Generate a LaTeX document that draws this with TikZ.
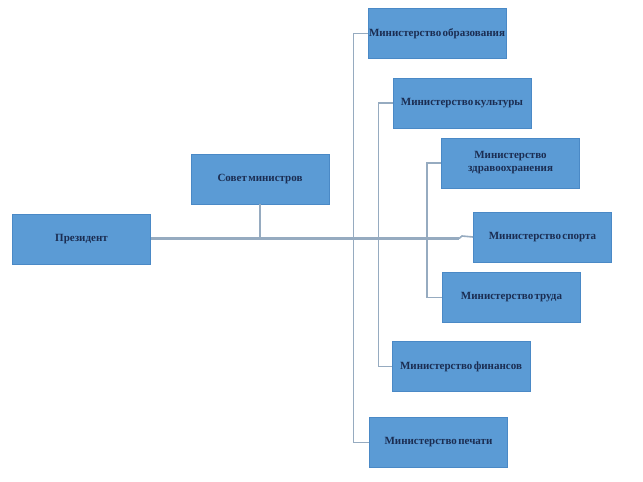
\documentclass[tikz,border=0pt]{standalone}
\usepackage{fontspec}
\setmainfont{Liberation Serif}
\newfontfamily\boxfam[WordSpace=0.5]{Liberation Serif}
\definecolor{boxfill}{HTML}{5B9BD5}
\definecolor{boxedge}{HTML}{4A89C6}
\definecolor{txt}{HTML}{1B2D52}
\definecolor{conn}{HTML}{96ABC0}
\begin{document}
\begin{tikzpicture}[x=1pt,y=-1pt,
  box/.style={draw=boxedge,fill=boxfill,line width=0.8pt,minimum width=138pt,minimum height=50pt,
    inner sep=0pt,align=center,text=txt,font=\boxfam\bfseries\fontsize{11}{13}\selectfont},
  link/.style={draw=conn,line width=1.6pt},
  mainlink/.style={draw=conn,line width=2.4pt}]
\useasboundingbox (0,0) rectangle (643,482);
\node[box] (pres) at (81.5,239) {Президент};
\node[box] (sov) at (260,179) {Совет министров};
\node[box] (edu) at (437,33.5) {Министерство образования};
\node[box] (cult) at (462,103) {Министерство культуры};
\node[box] (health) at (510.5,163) {Министерство\\здравоохранения};
\node[box] (sport) at (542.5,237) {Министерство спорта};
\node[box] (labor) at (511.5,297.5) {Министерство труда};
\node[box] (fin) at (461,366.5) {Министерство финансов};
\node[box] (press) at (438.5,442.5) {Министерство печати};
\coordinate (j) at (459,238.5);
\draw[mainlink] (pres.east |- j) -- (j);
\draw[link] (j) -- (462,236) -- (sport.west);
\draw[link] (sov.south) -- (sov.south |- j);
\draw[link] (edu.west) -- ++(-14,0) coordinate (t1) |- (press.west);
\draw[link] (cult.west) -- ++(-14,0) coordinate (t2) |- (fin.west);
\draw[link] (health.west) -- ++(-14,0) coordinate (t3) |- (labor.west);
\end{tikzpicture}
\end{document}
